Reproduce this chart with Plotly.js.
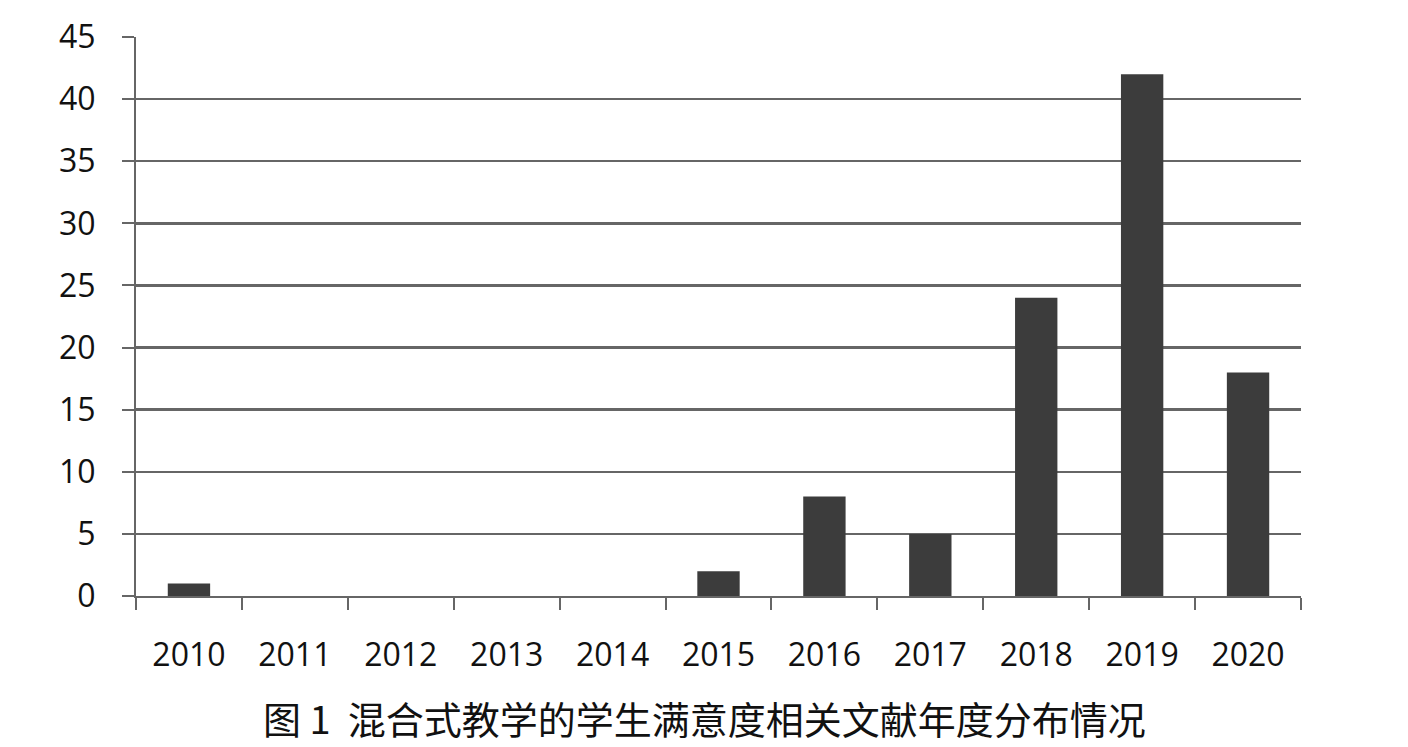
<!DOCTYPE html>
<html>
<head>
<meta charset="utf-8">
<script src="https://cdn.plot.ly/plotly-3.0.1.min.js"></script>
<style>html,body{margin:0;padding:0;background:#fff;}</style>
</head>
<body>
<div id="chart" style="width:1408px;height:747px;"></div>
<script>
const years = ["2010","2011","2012","2013","2014","2015","2016","2017","2018","2019","2020"];
const counts = [1, 0, 0, 0, 0, 2, 8, 5, 24, 42, 18];
const yTicks = [0,5,10,15,20,25,30,35,40,45];
const captionText = "图 1  混合式教学的学生满意度相关文献年度分布情况";

const trace = {
  type: "bar",
  x: years,
  y: counts,
  marker: {color: "#3c3c3c", line: {width: 0}},
  hoverinfo: "x+y"
};

const layout = {
  width: 1408, height: 747,
  margin: {l: 136, r: 107, t: 37, b: 151},
  paper_bgcolor: "#fff", plot_bgcolor: "#fff",
  bargap: 0.6,
  showlegend: false,
  font: {family: "Open Sans, Liberation Sans, sans-serif", color: "#111"},
  xaxis: {
    type: "category",
    tickson: "boundaries",
    ticks: "outside", ticklen: 12, tickwidth: 2, tickcolor: "#666",
    showline: true, linecolor: "#666", linewidth: 2,
    showgrid: false,
    tickfont: {size: 32, family: "Open Sans, sans-serif", color: "#111"},
    ticklabelstandoff: 30
  },
  yaxis: {
    range: [0, 45],
    tickvals: yTicks,
    ticks: "outside", ticklen: 12, tickwidth: 2, tickcolor: "#666",
    showline: true, linecolor: "#666", linewidth: 2,
    showgrid: true, gridcolor: "#666", gridwidth: 2.5,
    zeroline: false,
    tickfont: {size: 32, family: "Open Sans, sans-serif", color: "#111"},
    ticklabelstandoff: 20
  },
  annotations: [{
    text: captionText,
    xref: "paper", yref: "paper",
    x: 0.488, y: -0.218, xanchor: "center", yanchor: "middle",
    showarrow: false,
    font: {size: 38, family: "Noto Sans CJK SC, sans-serif", color: "#111"}
  }]
};

Plotly.newPlot("chart", [trace], layout, {displayModeBar: false, staticPlot: true});
</script>
</body>
</html>
